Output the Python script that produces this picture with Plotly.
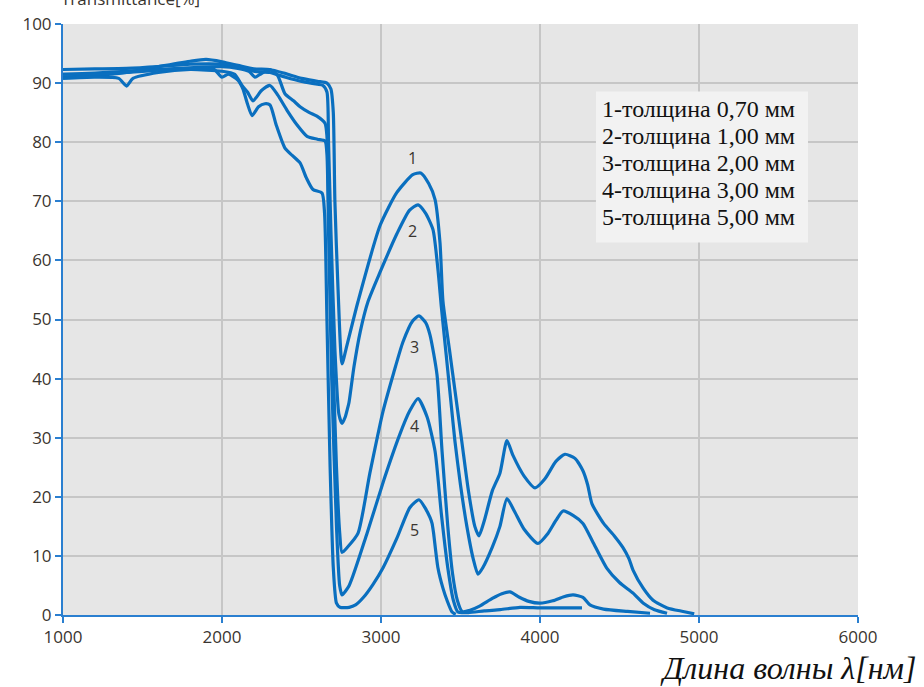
import plotly.graph_objects as go

# Transmission spectra for five sample thicknesses (wavelength in nm, transmittance in %)
x1 = [1000, 1200, 1400, 1600, 1800, 1900, 2000, 2100, 2200, 2300, 2400, 2500, 2600, 2660, 2685, 2700, 2710, 2730, 2755, 2780,
      2855, 2994, 3100, 3200, 3250, 3300, 3340, 3371, 3390, 3430, 3470, 3510, 3550, 3590, 3616, 3650, 3700, 3748, 3792, 3830,
      3900, 3969, 4030, 4100, 4157, 4220, 4270, 4300, 4327, 4400, 4470, 4522, 4560, 4585, 4650, 4711, 4800, 4900, 4970]
y1 = [91.0, 91.3, 91.8, 92.8, 93.7, 94.0, 93.6, 93.0, 92.4, 92.3, 91.6, 90.8, 90.3, 90.0, 89.0, 85, 70, 55, 42.5, 45,
      53, 65.9, 71.5, 74.5, 74.8, 73, 70.3, 63, 53, 45, 37, 29, 21, 15, 13.4, 16, 21, 24, 29.5, 27,
      23.5, 21.5, 23, 26, 27.2, 26.5, 24.4, 22, 18.8, 15.5, 13.3, 11.4, 9.5, 7.6, 4.5, 2.5, 1.2, 0.6, 0.2]

x2 = [1000, 1200, 1400, 1600, 1800, 2000, 2100, 2200, 2300, 2400, 2500, 2600, 2635, 2660, 2670, 2685, 2710, 2735, 2755, 2775,
      2790, 2799, 2830, 2870, 2918, 2994, 3100, 3180, 3233, 3280, 3327, 3358, 3380, 3410, 3440, 3465, 3500, 3540, 3580, 3610,
      3640, 3700, 3748, 3792, 3840, 3900, 3987, 4050, 4100, 4145, 4210, 4270, 4330, 4421, 4500, 4585, 4650, 4720, 4799]
y2 = [92.3, 92.4, 92.5, 92.8, 93.2, 93.2, 92.8, 92.0, 91.8, 91.0, 90.3, 89.8, 89.6, 88.5, 80, 65, 45, 34, 32.4, 33.5,
      35, 36, 42, 48, 53, 58, 64.5, 68.5, 69.4, 68, 65.2, 58.5, 52, 44, 36, 29.4, 22, 15, 9.5, 6.9,
      8, 11.5, 15, 19.7, 17.5, 14.5, 12.1, 13.8, 16, 17.6, 16.8, 15.5, 12.5, 7.9, 5.5, 3.7, 2, 0.9, 0.3]

x3 = [1000, 1200, 1400, 1600, 1800, 2000, 2100, 2170, 2208, 2240, 2300, 2350, 2396, 2450, 2491, 2550, 2597, 2648, 2660, 2670,
      2690, 2720, 2740, 2755, 2790, 2855, 2930, 3013, 3080, 3138, 3200, 3239, 3280, 3308, 3352, 3384, 3420, 3450, 3480, 3510,
      3560, 3620, 3700, 3760, 3811, 3870, 3930, 3999, 4080, 4150, 4208, 4270, 4314, 4400, 4550, 4692]
y3 = [91.5, 91.7, 92.0, 92.3, 92.6, 92.8, 92.5, 92.0, 91.0, 91.5, 92.3, 91.3, 88.2, 87, 86, 85, 84.4, 83.2, 81, 70,
      50, 25, 14, 10.6, 11.5, 13.8, 24, 34.5, 41, 46.2, 49.8, 50.6, 49.5, 47.4, 40.7, 27.7, 15, 7, 2.5, 0.6,
      0.8, 1.5, 2.8, 3.6, 3.9, 3.0, 2.3, 2.0, 2.4, 3.1, 3.4, 3.0, 1.7, 1.0, 0.6, 0.3]

x4 = [1000, 1200, 1350, 1400, 1440, 1600, 1800, 2000, 2080, 2126, 2160, 2195, 2250, 2302, 2350, 2409, 2470, 2535, 2600, 2648,
      2660, 2670, 2690, 2720, 2740, 2755, 2800, 2912, 3020, 3119, 3180, 3233, 3290, 3340, 3380, 3420, 3455, 3484, 3550, 3650,
      3750, 3874, 4000, 4150, 4264]
y4 = [90.8, 91.0, 90.8, 89.5, 90.8, 91.8, 92.3, 92.0, 91.5, 89.6, 88.5, 87.0, 88.8, 89.6, 88, 85.4, 83, 81, 80.5, 80.2,
      78, 65, 40, 15, 5, 3.4, 5, 13.8, 23, 30.6, 34.5, 36.6, 33.5, 27.7, 17, 8, 2.5, 0.5, 0.4, 0.7,
      0.9, 1.3, 1.2, 1.2, 1.2]

x5 = [1000, 1200, 1400, 1600, 1800, 1950, 2000, 2040, 2100, 2132, 2160, 2189, 2230, 2270, 2302, 2340, 2396, 2440, 2491, 2530,
      2572, 2629, 2645, 2660, 2680, 2700, 2720, 2742, 2800, 2840, 2890, 2950, 3013, 3100, 3182, 3239, 3280, 3308, 3321, 3330,
      3358, 3390, 3415, 3447, 3470]
y5 = [91.5, 91.5, 91.8, 92.2, 92.5, 92.3, 91.0, 91.5, 90.5, 89.0, 86.5, 84.5, 86, 86.5, 86.3, 83, 79, 77.8, 76.5, 74,
      72, 71.4, 68, 50, 25, 8, 2, 1.3, 1.3, 1.7, 3.0, 5.2, 8, 13, 18.2, 19.5, 18, 16.5, 15.5, 14,
      8, 4.5, 2.5, 0.5, 0.1]

curve_labels = ["1", "2", "3", "4", "5"]
label_x = [3195, 3201, 3208, 3208, 3208]
label_y = [77.3, 65, 45.4, 32, 14.3]

legend_lines = ["1-толщина 0,70 мм", "2-толщина 1,00 мм", "3-толщина 2,00 мм",
                "4-толщина 3,00 мм", "5-толщина 5,00 мм"]

x_ticks = [1000, 2000, 3000, 4000, 5000, 6000]
y_ticks = [0, 10, 20, 30, 40, 50, 60, 70, 80, 90, 100]

LINE = "#0a6fbf"
AXIS = "#2a7fd0"
GRID = "#c6c6c6"
TXT = "#3a3530"

fig = go.Figure()
for xs, ys in [(x1, y1), (x2, y2), (x3, y3), (x4, y4), (x5, y5)]:
    fig.add_trace(go.Scatter(x=xs, y=ys, mode="lines",
                             line=dict(color=LINE, width=3.2, shape="spline", smoothing=0.6),
                             showlegend=False, cliponaxis=False))

for t, lx, ly in zip(curve_labels, label_x, label_y):
    fig.add_annotation(x=lx, y=ly, text=t, showarrow=False,
                       font=dict(family="Open Sans", size=16, color=TXT))

# thickness key: light panel with one text row per sample
fig.add_shape(type="rect", xref="paper", yref="paper", x0=0.6704, x1=0.9371, y0=0.6303, y1=0.8857,
              fillcolor="#f2f2f2", line=dict(width=0), layer="above")
key_top, key_step = 0.857, 0.0458
for i, line_text in enumerate(legend_lines):
    fig.add_annotation(xref="paper", yref="paper", x=0.6755, y=key_top - i * key_step,
                       xanchor="left", yanchor="middle", text=line_text, showarrow=False,
                       font=dict(family="Liberation Serif", size=24, color="#111111"))

# wavelength axis caption
fig.add_annotation(xref="paper", yref="paper", x=1.0755, y=-0.056, xanchor="right", yanchor="top",
                   text="<i>Длина волны λ[нм]</i>", showarrow=False,
                   font=dict(family="Liberation Serif", size=32, color="#111111"))

# ordinate caption at the top edge
fig.add_annotation(xref="paper", yref="paper", x=-0.005, y=1.021, xanchor="left", yanchor="bottom",
                   text="Transmittance[%]", showarrow=False,
                   font=dict(family="Open Sans", size=17, color=TXT))

fig.update_layout(
    width=924, height=687,
    margin=dict(l=63, r=66, t=20, b=72),
    paper_bgcolor="white", plot_bgcolor="#e6e6e6",
    xaxis=dict(range=[1000, 6000], tickvals=x_ticks, showgrid=True, gridcolor=GRID, gridwidth=1.5,
               showline=True, linecolor=AXIS, linewidth=2, ticks="outside", tickcolor=AXIS,
               ticklen=6, tickwidth=2, zeroline=False,
               tickfont=dict(family="Open Sans", size=17, color=TXT)),
    yaxis=dict(range=[0, 100], tickvals=y_ticks, showgrid=True, gridcolor=GRID, gridwidth=1.5,
               showline=True, linecolor=AXIS, linewidth=2, ticks="outside", tickcolor=AXIS,
               ticklen=6, tickwidth=2, zeroline=False,
               tickfont=dict(family="Open Sans", size=17, color=TXT)),
)

fig.write_html("out.html")
